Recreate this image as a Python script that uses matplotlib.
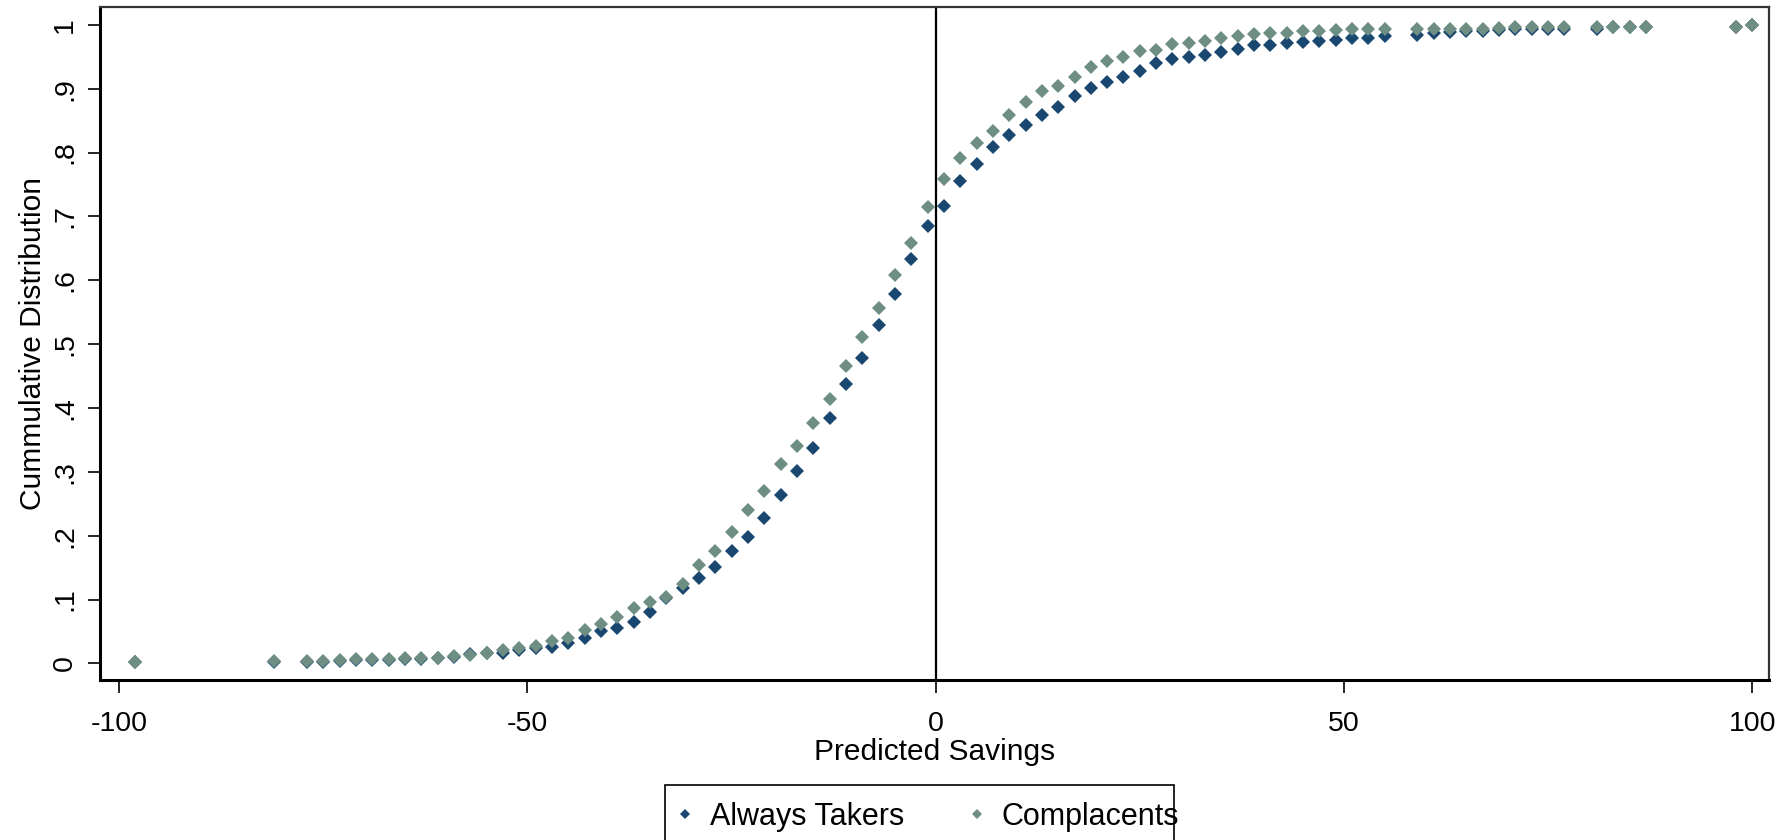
#!/usr/bin/env python3

import matplotlib

matplotlib.use("Agg")
import matplotlib.pyplot as plt
from matplotlib.patches import Rectangle

# ...Predicted savings at which the cumulative distribution is evaluated
savings = [
    -98, -81, -77, -75, -73, -71, -69, -67, -65, -63, -61, -59, -57, -55,
    -53, -51, -49, -47, -45, -43, -41, -39, -37, -35, -33, -31, -29, -27,
    -25, -23, -21, -19, -17, -15, -13, -11, -9, -7, -5, -3, -1, 1, 3, 5,
    7, 9, 11, 13, 15, 17, 19, 21, 23, 25, 27, 29, 31, 33, 35, 37, 39, 41,
    43, 45, 47, 49, 51, 53, 55, 59, 61, 63, 65, 67, 69, 71, 73, 75, 77,
    81, 83, 85, 87, 98, 100,
]

always_takers = [
    0.002, 0.002, 0.002, 0.002, 0.004, 0.005, 0.005, 0.005, 0.007, 0.007,
    0.008, 0.010, 0.015, 0.016, 0.017, 0.021, 0.024, 0.026, 0.032, 0.039,
    0.050, 0.056, 0.065, 0.080, 0.102, 0.118, 0.133, 0.151, 0.176, 0.198,
    0.227, 0.264, 0.301, 0.337, 0.385, 0.437, 0.479, 0.530, 0.579, 0.633,
    0.685, 0.717, 0.756, 0.782, 0.808, 0.827, 0.843, 0.859, 0.872, 0.888,
    0.901, 0.911, 0.918, 0.927, 0.940, 0.946, 0.949, 0.953, 0.958, 0.962,
    0.968, 0.969, 0.971, 0.973, 0.974, 0.977, 0.980, 0.980, 0.982, 0.984,
    0.987, 0.989, 0.990, 0.990, 0.992, 0.993, 0.993, 0.993, 0.993, 0.993,
    0.997, 0.997, 0.997, 0.997, 1.000,
]

complacents = [
    0.002, 0.004, 0.004, 0.004, 0.005, 0.007, 0.007, 0.007, 0.008, 0.008,
    0.009, 0.011, 0.013, 0.017, 0.021, 0.024, 0.027, 0.035, 0.040, 0.053,
    0.061, 0.073, 0.086, 0.096, 0.104, 0.125, 0.154, 0.176, 0.205, 0.240,
    0.270, 0.312, 0.340, 0.376, 0.414, 0.466, 0.511, 0.556, 0.608, 0.659,
    0.714, 0.759, 0.792, 0.815, 0.834, 0.859, 0.879, 0.896, 0.905, 0.918,
    0.934, 0.944, 0.949, 0.959, 0.960, 0.970, 0.972, 0.975, 0.979, 0.983,
    0.986, 0.988, 0.988, 0.990, 0.991, 0.992, 0.994, 0.994, 0.994, 0.994,
    0.994, 0.994, 0.994, 0.994, 0.995, 0.996, 0.996, 0.996, 0.996, 0.996,
    0.997, 0.997, 0.997, 0.997, 1.000,
]

x_ticks = [-100, -50, 0, 50, 100]
y_ticks = [0, 0.1, 0.2, 0.3, 0.4, 0.5, 0.6, 0.7, 0.8, 0.9, 1.0]
y_tick_labels = ["0", ".1", ".2", ".3", ".4", ".5", ".6", ".7", ".8", ".9", "1"]


def main():
    plt.rcParams["font.family"] = ["Liberation Sans", "DejaVu Sans"]
    plt.rcParams["axes.unicode_minus"] = False

    fig = plt.figure(figsize=(17.91, 8.40), dpi=100)
    ax = fig.add_axes([0.056, 0.1905, 0.9315, 0.8012])

    # ...Reference line at zero savings
    ax.axvline(0, color="black", linewidth=1.6, zorder=1)

    ax.plot(
        savings,
        always_takers,
        linestyle="none",
        marker="D",
        markersize=7.4,
        color="#1a476f",
        markeredgewidth=0,
        label="Always Takers",
        zorder=3,
    )
    ax.plot(
        savings,
        complacents,
        linestyle="none",
        marker="D",
        markersize=7.4,
        color="#6e8e84",
        markeredgewidth=0,
        label="Complacents",
        zorder=4,
    )

    ax.set_xlim(-102.3, 102.0)
    ax.set_ylim(-0.026, 1.028)

    ax.set_xticks(x_ticks)
    ax.set_yticks(y_ticks)
    ax.set_yticklabels(y_tick_labels, rotation=90, va="center")

    ax.tick_params(axis="both", direction="out", length=9, width=1.2,
                   labelsize=20.5, colors="black")
    ax.tick_params(axis="x", pad=13)
    ax.tick_params(axis="y", pad=7)

    ax.set_xlabel("Predicted Savings", fontsize=21.5, labelpad=1)
    ax.set_ylabel("Cummulative Distribution", fontsize=21.5, labelpad=4)

    # ...Stata style frame: heavier axis lines, lighter plot border
    for side in ["left", "bottom"]:
        ax.spines[side].set_linewidth(2.2)
        ax.spines[side].set_color("black")
    for side in ["top", "right"]:
        ax.spines[side].set_linewidth(1.6)
        ax.spines[side].set_color("#333333")

    # ...Legend entries without their own frame, box drawn separately so it
    # ...runs off the bottom edge like the original
    fig.legend(
        loc="center left",
        bbox_to_anchor=(0.3775, 0.0279),
        ncol=2,
        fontsize=22,
        markerscale=0.72,
        frameon=False,
        borderpad=0.0,
        handlelength=0.6,
        handletextpad=0.5,
        columnspacing=2.1,
        borderaxespad=0,
    )
    fig.add_artist(
        Rectangle(
            (0.3713, -0.03),
            0.2842,
            0.0955,
            transform=fig.transFigure,
            fill=False,
            edgecolor="black",
            linewidth=1.2,
            clip_on=False,
        )
    )

    fig.savefig("out.png", dpi=100)


if __name__ == "__main__":
    main()
